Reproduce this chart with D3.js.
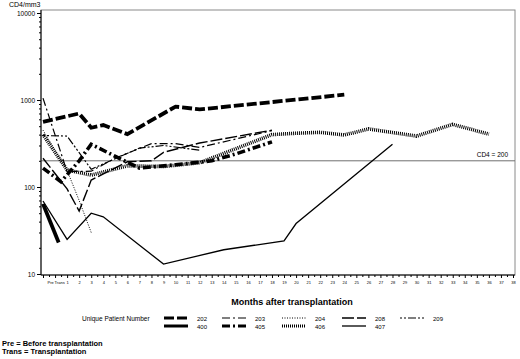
<!DOCTYPE html>
<html>
<head>
<meta charset="utf-8">
<script src="https://cdn.jsdelivr.net/npm/d3@7"></script>
<style>
body{margin:0;background:#fff;}
svg{display:block;font-family:"Liberation Sans",Arial,sans-serif;}
</style>
</head>
<body>
<div id="grafica"></div>
<script>
// meses: -1 = Pre, 0 = Trans
var pt202=[[-1,560],[2,700],[3,480],[4,515],[6,405],[10,840],[12,780],[24,1150]];
var pt400=[[-1,64],[0.3,23]];
var pt203=[[-1,1050],[1,150],[3,152],[5,215],[8,315],[10,315],[12,285],[18,445]];
var pt405=[[-1,165],[0.5,115],[2,200],[3,310],[5,225],[7,165],[10,180],[13,200],[15,240],[18,330]];
var pt204=[[-1,450],[1,155],[2,70],[3,30]];
var pt406=[[-1,400],[1,157],[3,137],[6,175],[9,172],[12,190],[18,400],[20,415],[22,425],[24,396],[26,465],[30,385],[33,525],[36,405]];
var pt208=[[-1,214],[1,95],[2,53],[3,120],[6,195],[8,200],[9,250],[12,320],[18,450]];
var pt407=[[-1,69],[1,25],[3,50],[4,45.5],[9,13],[14,19],[19,24],[20,38],[28,310]];
var pt209=[[-1,390],[1,385],[3,160],[7,280],[9,300],[12,265]];

var pacientes=["202","400","203","405","204","406","208","407","209"];
var series={"202":pt202,"400":pt400,"203":pt203,"405":pt405,"204":pt204,"406":pt406,"208":pt208,"407":pt407,"209":pt209};
var yTicks=[10,100,1000,10000];
var meses=d3.range(-1,39);
var corte=200;

var estilos={
	"202":{w:3.8,dash:"10,3"},
	"400":{w:3.8,dash:null},
	"203":{w:1.2,dash:"8,3,2,3"},
	"405":{w:3.6,dash:"8,3,2,3"},
	"204":{w:1,dash:"1,1.5"},
	"406":{w:3.6,dash:"1,1"},
	"208":{w:1.4,dash:"12,3"},
	"407":{w:1.3,dash:null},
	"209":{w:1.2,dash:"2,2,2,2,8,2"}
};

var ancho=520, alto=359;
var svg=d3.select("#grafica").append("svg")
	.attr("width",ancho).attr("height",alto);

var x=d3.scaleLinear().domain([-1,38]).range([43,513]);
var y=d3.scaleLog().domain([10,10000]).range([274,13]);

// marco
svg.append("rect").attr("x",41).attr("y",10).attr("width",474).attr("height",265)
	.style("fill","none").style("stroke","#8a8a8a").style("stroke-width",1);

// linea CD4=200
svg.append("line").attr("x1",41).attr("x2",515).attr("y1",y(corte)).attr("y2",y(corte))
	.style("stroke","#707070").style("stroke-width",1);
svg.append("text").attr("x",508).attr("y",y(corte)-4).attr("text-anchor","end")
	.style("font-size","6.5px").text("CD4 = 200");

// eje y
var menores=[];
[10,100,1000].forEach(function(b){for(var k=2;k<10;k++)menores.push(b*k)});
svg.append("g").attr("transform","translate(41,0)")
	.call(d3.axisLeft(y).tickValues(menores).tickSize(2).tickFormat(""))
	.call(g=>g.select(".domain").remove());
var ejeY=svg.append("g").attr("transform","translate(41,0)")
	.call(d3.axisLeft(y).tickValues(yTicks).tickSize(4).tickPadding(2).tickFormat(d3.format("d")));
ejeY.select(".domain").attr("d","M0,10V275");
ejeY.selectAll("text").style("font-size","6.5px").style("font-family","Liberation Sans");

svg.append("text").attr("x",9).attr("y",7).style("font-size","7px").text("CD4/mm3");

// eje x
svg.append("g").attr("transform","translate(0,275)")
	.call(d3.axisBottom(x).tickValues(d3.range(-0.5,38,1)).tickSize(2).tickFormat(""))
	.call(g=>g.select(".domain").remove());
var ejeX=svg.append("g").attr("transform","translate(0,275)")
	.call(d3.axisBottom(x).tickValues(meses).tickSize(3).tickPadding(3)
		.tickFormat(d=>d==-1?"Pre":d==0?"Trans":d));
ejeX.select(".domain").attr("d","M41,0H515");
ejeX.selectAll("text").style("font-size","4px").style("font-family","Liberation Sans");
ejeX.selectAll(".tick").filter(d=>d<=0).select("text").attr("text-anchor","start").attr("dx",d=>d==-1?4:-1);

svg.append("text").attr("x",292).attr("y",305).attr("text-anchor","middle")
	.style("font-size","9px").style("font-weight","bold").text("Months after transplantation");

// lineas
var linea=d3.line().x(d=>x(d[0])).y(d=>y(d[1]));
svg.selectAll(".paciente")
	.data(pacientes)
	.enter()
	.append("path")
	.attr("class","paciente")
	.attr("d",p=>linea(series[p]))
	.style("fill","none")
	.style("stroke","#000")
	.style("stroke-width",p=>estilos[p].w)
	.style("stroke-dasharray",p=>estilos[p].dash);

// leyenda
svg.append("text").attr("x",82).attr("y",321).style("font-size","6.5px").text("Unique Patient Number");
var colX=[164,222,282,342,400];
var leyenda=svg.selectAll(".leyenda")
	.data(pacientes)
	.enter()
	.append("g")
	.attr("class","leyenda")
	.attr("transform",function(p,i){
		var col=Math.floor(i/2), fila=i%2;
		return "translate("+colX[col]+","+(318+fila*8)+")";
	});
leyenda.append("line").attr("x1",0).attr("x2",24).attr("y1",0).attr("y2",0)
	.style("stroke","#000")
	.style("stroke-width",p=>Math.min(estilos[p].w,3))
	.style("stroke-dasharray",p=>estilos[p].dash);
leyenda.append("text").attr("x",33).attr("y",2.5).style("font-size","6px").text(p=>p);

svg.append("text").attr("x",2).attr("y",346).style("font-size","7.5px").style("font-weight","bold")
	.text("Pre  =  Before transplantation");
svg.append("text").attr("x",2).attr("y",354).style("font-size","7.5px").style("font-weight","bold")
	.text("Trans  =  Transplantation");
</script>
</body>
</html>
